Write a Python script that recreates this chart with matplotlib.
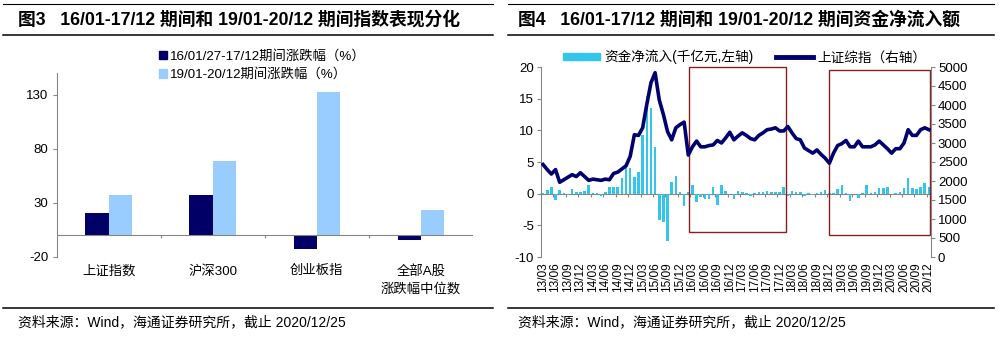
import matplotlib.pyplot as plt
import numpy as np
import pandas as pd
from matplotlib.lines import Line2D
from matplotlib.patches import Patch, Rectangle

plt.rcParams['font.family'] = ['Liberation Sans', 'Noto Sans CJK SC']
plt.rcParams['axes.unicode_minus'] = False

# ---- Fig 3: index returns in the two periods ----
idx_names = ['上证指数', '沪深300', '创业板指', '全部A股\n涨跌幅中位数']
chg_16_17 = [20.5, 37.0, -13.0, -4.5]
chg_19_20 = [37.0, 69.0, 133.0, 23.0]
legend_3 = ['16/01/27-17/12期间涨跌幅（%）', '19/01-20/12期间涨跌幅（%）']

# ---- Fig 4: monthly net inflow (100bn yuan) and SSE composite ----
months = pd.period_range('2013-03', '2020-12', freq='M').strftime('%y/%m').tolist()
net_inflow = [
    0.1, 0.6, 1.1, -1.0, 0.6, 0.1, -0.2, 0.8, 0.2, 0.2,
    0.4, 1.4, 0.1, 0.1, -0.3, 0.2, 1.1, 1.1, 1.0, 2.5,
    4.3, 4.0, 2.6, 3.5, 9.2, 15.5, 13.5, 7.3, -4.1, -4.5,
    -7.4, 1.9, 2.8, 0.2, -2.0, 0.2, 1.4, -1.3, -0.6, -0.9,
    -0.9, 1.1, -1.8, 1.3, 0.5, -0.1, -0.8, 0.5, 0.3, 0.1,
    -0.3, 0.1, 0.2, 0.2, 0.4, 0.3, 0.3, 0.2, 1.1, -0.3,
    0.5, 0.3, 0.2, -0.4, 0.1, -0.2, 0.1, 0.2, 0.6, 0.1,
    0.1, 0.8, 1.4, 0.1, -1.2, -0.1, -0.7, 0.1, 1.3, 0.1,
    0.2, 0.9, 0.9, 1.0, -0.1, 0.1, 0.2, 0.9, 2.5, 0.9,
    0.8, 1.1, 1.7, 1.0,
]
szzs = [
    2433, 2300, 2183, 2300, 1967, 2033, 2100, 2167, 2117, 2217,
    2117, 2017, 2050, 2033, 2017, 2050, 2033, 2200, 2233, 2317,
    2400, 2650, 3217, 3200, 3400, 4017, 4583, 4850, 4133, 3750,
    3300, 3083, 3400, 3483, 3550, 2683, 2900, 3050, 2900, 2900,
    2933, 2950, 3067, 3000, 3133, 3283, 3083, 3183, 3267, 3200,
    3117, 3083, 3200, 3267, 3350, 3367, 3400, 3317, 3317, 3433,
    3267, 3117, 3083, 2867, 2800, 2733, 2817, 2700, 2600, 2467,
    2733, 2933, 2983, 3067, 2900, 2900, 3050, 2900, 2900, 2900,
    2950, 3050, 2950, 2850, 2733, 2850, 2850, 3000, 3350, 3200,
    3200, 3350, 3400, 3350,
]
legend_4 = ['资金净流入(千亿元,左轴)', '上证综指（右轴）']
# highlighted periods: (x0, x1, y0, y1) in month-index / left-axis units
boxes = [(35.2, 58.5, -6.0, 20.0), (68.9, 93.3, -6.5, 19.6)]

NAVY = '#000066'
LIGHT = '#99CCFF'
CYAN = '#33C6EA'
LINE = '#000070'
BOXRED = '#8B1F1F'
GREY = '#868686'

W, H = 1001, 338
fig = plt.figure(figsize=(W / 100, H / 100), dpi=100)


def fx(px):
    return px / W


def fy(py):
    return 1 - py / H


# header / footer rules and titles
for x0, x1 in [(3, 493), (508, 994)]:
    fig.add_artist(Line2D([fx(x0), fx(x1)], [fy(4), fy(4)], color='black', lw=0.8))
    fig.add_artist(Line2D([fx(x0), fx(x1)], [fy(35), fy(35)], color='black', lw=1.1))
    fig.add_artist(Line2D([fx(x0), fx(x1)], [fy(307.5), fy(307.5)], color='black', lw=1.1))

fig.text(fx(18), fy(20), '图3   16/01-17/12 期间和 19/01-20/12 期间指数表现分化',
         fontsize=12.8, fontweight='bold', va='center', ha='left')
fig.text(fx(518), fy(20), '图4   16/01-17/12 期间和 19/01-20/12 期间资金净流入额',
         fontsize=12.8, fontweight='bold', va='center', ha='left')
for x in (18, 518):
    fig.text(fx(x), fy(322), '资料来源：Wind，海通证券研究所，截止 2020/12/25',
             fontsize=10, va='center', ha='left')

# ---- left panel ----
ax = fig.add_axes([fx(56.7), fy(256.7), fx(473 - 56.7), (256.7 - 73.3) / H])
x = np.arange(len(idx_names))
bw = 0.224
ax.bar(x - bw / 2, chg_16_17, bw, color=NAVY, label=legend_3[0])
ax.bar(x + bw / 2, chg_19_20, bw, color=LIGHT, label=legend_3[1])
ax.set_xlim(-0.5, len(idx_names) - 0.5)
ax.set_ylim(-20, 150)
ax.set_yticks([-20, 30, 80, 130])
ax.axhline(0, color=GREY, lw=0.8, zorder=1)
ax.vlines(x[:-1] + 0.5, -2.8, 0, color=GREY, lw=0.8)
ax.set_xticks(x)
ax.set_xticklabels(idx_names, fontsize=9.6, linespacing=1.45)
ax.tick_params(axis='x', length=0, pad=6)
ax.tick_params(axis='y', labelsize=9.5, length=3, color=GREY, pad=3)
for s in ['top', 'right', 'bottom']:
    ax.spines[s].set_visible(False)
ax.spines['left'].set_color(GREY)
ax.spines['left'].set_linewidth(0.8)
fig.legend(handles=[Patch(color=NAVY), Patch(color=LIGHT)], labels=legend_3,
           loc='upper left', bbox_to_anchor=(fx(159), fy(50)), frameon=False,
           fontsize=9.6, handlelength=0.6, handleheight=0.6, handletextpad=0.2,
           labelspacing=0.4, borderpad=0, borderaxespad=0)

# ---- right panel ----
bx = fig.add_axes([fx(541), fy(257), fx(931 - 541), (257 - 67) / H])
m = np.arange(len(months))
bx.bar(m, net_inflow, 0.62, color=CYAN, zorder=2)
bx.set_xlim(-0.5, len(months) - 0.5)
bx.set_ylim(-10, 20)
bx.set_yticks(np.arange(-10, 21, 5))
bx.axhline(0, color=GREY, lw=0.8, zorder=1)
bx.vlines(np.arange(2.5, len(months) - 1, 3), -0.5, 0, color=GREY, lw=0.8)
bx.set_xticks(m[::3])
bx.set_xticklabels(months[::3], rotation=90, fontsize=8.6)
bx.tick_params(axis='x', length=0, pad=4)
bx.tick_params(axis='y', labelsize=9.5, length=3, color=GREY, pad=2)

for x0, x1, y0, y1 in boxes:
    bx.add_patch(Rectangle((x0, y0), x1 - x0, y1 - y0, fill=False,
                           edgecolor=BOXRED, lw=1.0, zorder=4, clip_on=False))

bx2 = bx.twinx()
bx2.plot(m, szzs, color=LINE, lw=2.6, solid_joinstyle='round', zorder=3)
bx2.set_ylim(0, 5000)
bx2.set_yticks(np.arange(0, 5001, 500))
bx2.tick_params(axis='y', labelsize=9.5, length=3, color=GREY, pad=2)

for a in (bx, bx2):
    a.spines['top'].set_visible(False)
    a.spines['bottom'].set_visible(False)
    a.spines['left'].set_color(GREY)
    a.spines['right'].set_color(GREY)
    a.spines['left'].set_linewidth(0.8)
    a.spines['right'].set_linewidth(0.8)
bx.spines['right'].set_visible(False)
bx2.spines['left'].set_visible(False)

fig.legend(handles=[Patch(color=CYAN), Line2D([], [], color=LINE, lw=3.5)],
           labels=legend_4, loc='center left', bbox_to_anchor=(fx(563), fy(57)),
           ncol=2, frameon=False, fontsize=9.8, handlelength=2.7, handleheight=0.5,
           handletextpad=0.3, columnspacing=1.7, borderpad=0, borderaxespad=0)

fig.savefig('out.png', dpi=100)
